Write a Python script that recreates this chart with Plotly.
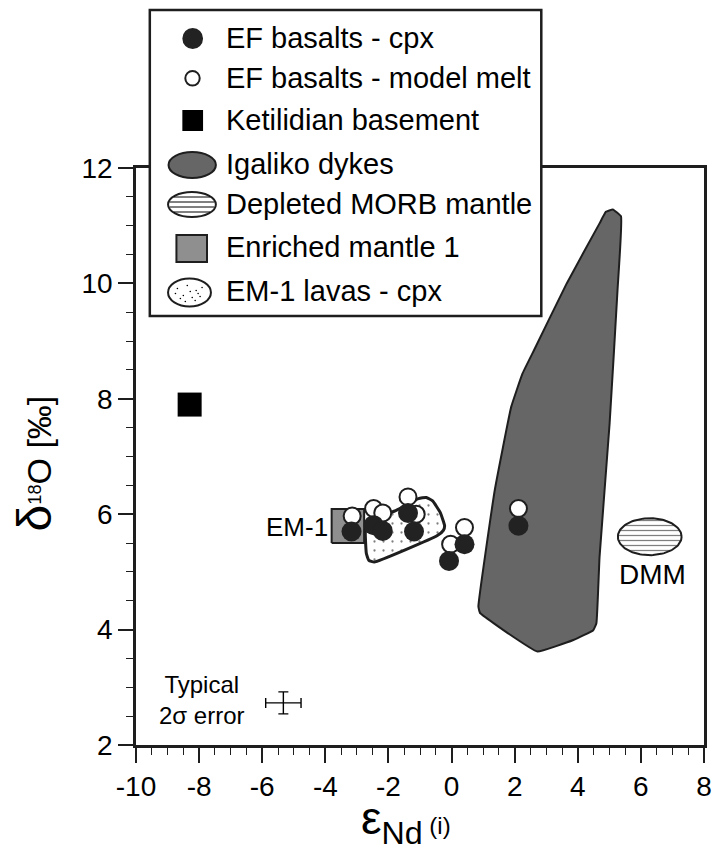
import numpy as np
import plotly.graph_objects as go

# ---------------------------------------------------------------------------
# Data: epsilon-Nd(i) vs delta-18O
# ---------------------------------------------------------------------------
# EF basalts, clinopyroxene analyses
cpx_end = [-3.17, -2.47, -2.18, -1.38, -1.19, -0.08, 0.41, 2.12]
cpx_d18o = [5.70, 5.81, 5.71, 6.02, 5.70, 5.19, 5.48, 5.80]
# EF basalts, calculated equilibrium melts
melt_end = [-3.15, -2.47, -2.18, -1.38, -1.12, -0.03, 0.41, 2.12]
melt_d18o = [5.97, 6.10, 6.02, 6.30, 6.00, 5.48, 5.77, 6.10]

# Ketilidian basement
ket_end = [-8.3]
ket_d18o = [7.9]

# Igaliko dykes field outline
igaliko_end = [5.11, 5.37, 5.26, 5.01, 4.69, 4.59, 4.49, 3.86, 2.72, 1.78, 0.90,
               0.85, 1.37, 1.89, 2.25, 2.62, 3.65, 4.69, 4.89, 5.11]
igaliko_d18o = [11.28, 11.16, 9.89, 7.58, 5.26, 4.11, 3.99, 3.82, 3.62, 3.94, 4.29,
                4.40, 6.42, 7.86, 8.44, 8.85, 10.00, 11.04, 11.24, 11.28]

# EM-1 lavas (cpx) field outline
em1lav_end = [-2.73, -2.70, -2.62, -2.45, -0.45, -0.26, -0.22, -0.36, -0.60, -0.80,
              -1.05, -1.74, -2.62, -2.73]
em1lav_d18o = [5.73, 5.32, 5.20, 5.17, 5.63, 5.72, 5.80, 6.03, 6.23, 6.29,
               6.27, 6.07, 5.86, 5.73]

# Enriched mantle 1 box (eNd range, d18O range)
em1_end = [-3.80, -2.77]
em1_d18o = [5.50, 6.09]

# Depleted MORB mantle: centre and half-ranges
dmm_centre = (6.28, 5.61)
dmm_half = (1.01, 0.32)

# Typical 2-sigma analytical uncertainty
err_pos = (-5.33, 2.73)
err_end = 0.56
err_d18o = 0.19

x_ticks = [-10, -8, -6, -4, -2, 0, 2, 4, 6, 8]
x_tick_text = ["-10", "-8", "-6", "-4", "-2", "0", "2", "4", "6", "8"]
y_ticks = [2, 4, 6, 8, 10, 12]
y_tick_text = ["2", "4", "6", "8", "10", "12"]

legend_labels = ["EF basalts - cpx", "EF basalts - model melt", "Ketilidian basement",
                 "Igaliko dykes", "Depleted MORB mantle", "Enriched mantle 1",
                 "EM-1 lavas - cpx"]

# ---------------------------------------------------------------------------
# Layout geometry (pixels)
# ---------------------------------------------------------------------------
W, H = 724, 850
ML, MR, MT, MB = 136, 12, 168, 105
PW, PH = W - ML - MR, H - MT - MB
FONT = "Liberation Sans, Arial, sans-serif"
INK = "#1e1e1e"


def px(x):
    return (x - ML) / PW


def py(y):
    return (H - MB - y) / PH


fig = go.Figure()

# Igaliko dykes field
fig.add_trace(go.Scatter(x=igaliko_end, y=igaliko_d18o, mode="lines",
                         line=dict(color=INK, width=2, shape="spline", smoothing=0.3),
                         fill="toself", fillcolor="#666666", hoverinfo="skip"))

# Enriched mantle 1 box
fig.add_trace(go.Scatter(
    x=[em1_end[0], em1_end[1], em1_end[1], em1_end[0], em1_end[0]],
    y=[em1_d18o[0], em1_d18o[0], em1_d18o[1], em1_d18o[1], em1_d18o[0]],
    mode="lines", line=dict(color=INK, width=2), fill="toself",
    fillcolor="#8f8f8f", hoverinfo="skip"))

# EM-1 lavas field (stippled)
fig.add_trace(go.Scatter(x=em1lav_end, y=em1lav_d18o, mode="lines",
                         line=dict(color=INK, width=3, shape="spline", smoothing=0.4),
                         fill="toself",
                         fillpattern=dict(shape=".", size=9, solidity=0.05,
                                          fgcolor="black", bgcolor="white"),
                         hoverinfo="skip"))

# Depleted MORB mantle (hatched ellipse)
t = np.linspace(0, 2 * np.pi, 121)
fig.add_trace(go.Scatter(x=dmm_centre[0] + dmm_half[0] * np.cos(t),
                         y=dmm_centre[1] + dmm_half[1] * np.sin(t),
                         mode="lines", line=dict(color=INK, width=2), fill="toself",
                         fillpattern=dict(shape="-", size=5, solidity=0.25,
                                          fgcolor="black", bgcolor="white"),
                         hoverinfo="skip"))

# Ketilidian basement
fig.add_trace(go.Scatter(x=ket_end, y=ket_d18o, mode="markers",
                         marker=dict(symbol="square", size=24, color="black"),
                         hoverinfo="skip"))

# Model melts (open) then cpx (filled)
fig.add_trace(go.Scatter(x=melt_end, y=melt_d18o, mode="markers",
                         marker=dict(symbol="circle", size=17, color="white",
                                     line=dict(color=INK, width=2)),
                         hoverinfo="skip"))
fig.add_trace(go.Scatter(x=cpx_end, y=cpx_d18o, mode="markers",
                         marker=dict(symbol="circle", size=20, color="#222222",
                                     line=dict(color="#222222", width=0)),
                         hoverinfo="skip"))

# Typical error cross
fig.add_trace(go.Scatter(x=[err_pos[0]], y=[err_pos[1]], mode="markers",
                         marker=dict(size=1, color="rgba(0,0,0,0)"),
                         error_x=dict(type="data", array=[err_end], color="black",
                                      thickness=1.4, width=5),
                         error_y=dict(type="data", array=[err_d18o], color="black",
                                      thickness=1.4, width=5),
                         hoverinfo="skip"))

annotations = [
    dict(x=-3.86, y=5.77, xref="x", yref="y", text="EM-1", showarrow=False,
         xanchor="right", yanchor="middle", font=dict(size=26, color="black", family=FONT)),
    dict(x=dmm_centre[0] + 0.1, y=4.96, xref="x", yref="y", text="DMM", showarrow=False,
         xanchor="center", yanchor="middle", font=dict(size=28, color="black", family=FONT)),
    dict(x=-7.9, y=2.78, xref="x", yref="y", text="Typical<br>2σ error", showarrow=False,
         xanchor="center", yanchor="middle", align="center",
         font=dict(size=24, color="black", family=FONT)),
    # axis titles
    dict(x=px(410), y=py(821), xref="paper", yref="paper", showarrow=False,
         xanchor="center", yanchor="middle",
         text='ε<sub>Nd</sub><span style="font-size:24px"> (i)</span>',
         font=dict(size=46, color="black", family=FONT)),
    dict(x=px(33), y=py(463), xref="paper", yref="paper", showarrow=False,
         xanchor="center", yanchor="middle", textangle=-90,
         text='<span style="font-size:48px">δ</span><span style="font-size:26px"><sup>18</sup></span>O [‰]',
         font=dict(size=34, color="black", family=FONT)),
]

# ---------------------------------------------------------------------------
# Legend box drawn by hand
# ---------------------------------------------------------------------------
shapes = [dict(type="rect", xref="paper", yref="paper", layer="above",
               x0=px(150), x1=px(547), y0=py(316), y1=py(10),
               fillcolor="white", line=dict(color=INK, width=2.5))]

row_y = [38, 78, 120, 164, 204, 247, 291]
for lab, ry in zip(legend_labels, row_y):
    annotations.append(dict(x=px(225), y=py(ry), xref="paper", yref="paper", text=lab,
                            showarrow=False, xanchor="left", yanchor="middle",
                            font=dict(size=29, color="black", family=FONT)))


def ell(x0, x1, y0, y1, fill, lw=2):
    return dict(type="circle", xref="paper", yref="paper", layer="above",
                x0=px(x0), x1=px(x1), y0=py(y1), y1=py(y0), fillcolor=fill,
                line=dict(color=INK, width=lw))


def rect(x0, x1, y0, y1, fill, lw=2):
    return dict(type="rect", xref="paper", yref="paper", layer="above",
                x0=px(x0), x1=px(x1), y0=py(y1), y1=py(y0), fillcolor=fill,
                line=dict(color=INK, width=lw))


shapes.append(ell(183, 204, 28, 49, "#222222", 0))                  # cpx
shapes.append(ell(186, 200.6, 71, 85.6, "white", 2))                # model melt
shapes.append(rect(183, 204, 110, 131, "black", 0))                 # basement
shapes.append(ell(169, 217, 152, 178, "#666666", 2))                # Igaliko
shapes.append(ell(168.5, 217, 192, 217, "white", 2))                # DMM
cx, cy, a, b = 192.75, 204.5, 24.25, 12.5
for dy in (-7.5, -2.5, 2.5, 7.5):
    hw = a * np.sqrt(1 - (dy / b) ** 2)
    shapes.append(dict(type="line", xref="paper", yref="paper", layer="above",
                       x0=px(cx - hw + 1), x1=px(cx + hw - 1), y0=py(cy + dy), y1=py(cy + dy),
                       line=dict(color="black", width=1)))
shapes.append(rect(177, 208, 235, 262, "#8f8f8f", 2))               # EM-1 box
shapes.append(ell(168.5, 212, 278.5, 306.5, "white", 2))            # EM-1 lavas
for ddx, ddy in [(-12, -4), (-6, 3), (-2, -7), (3, 5), (7, -2), (11, 4), (-9, 6),
                 (1, -1), (13, -5), (6, 8), (-14, 1), (9, 1), (-4, 9)]:
    shapes.append(dict(type="circle", xref="paper", yref="paper", layer="above",
                       x0=px(190 + ddx - 0.8), x1=px(190 + ddx + 0.8),
                       y0=py(292.5 + ddy + 0.8), y1=py(292.5 + ddy - 0.8),
                       fillcolor="black", line=dict(width=0)))

axis_common = dict(showline=True, linecolor=INK, linewidth=2.5, mirror=True,
                   showgrid=False, zeroline=False, ticks="outside", ticklen=15,
                   tickwidth=1.5, tickcolor=INK,
                   tickfont=dict(size=28, color="black", family=FONT))

fig.update_layout(
    width=W, height=H, margin=dict(l=ML, r=MR, t=MT, b=MB),
    paper_bgcolor="white", plot_bgcolor="white", showlegend=False,
    xaxis=dict(range=[-10, 8], tickvals=x_ticks, ticktext=x_tick_text,
               minor=dict(dtick=0.5, ticks="outside", ticklen=7, tickwidth=1.2,
                          tickcolor=INK, showgrid=False),
               **axis_common),
    yaxis=dict(range=[2, 12], tickvals=y_ticks, ticktext=y_tick_text,
               minor=dict(dtick=0.5, ticks="outside", ticklen=7, tickwidth=1.2,
                          tickcolor=INK, showgrid=False),
               **axis_common),
    annotations=annotations, shapes=shapes,
)

fig.write_html("out.html")
